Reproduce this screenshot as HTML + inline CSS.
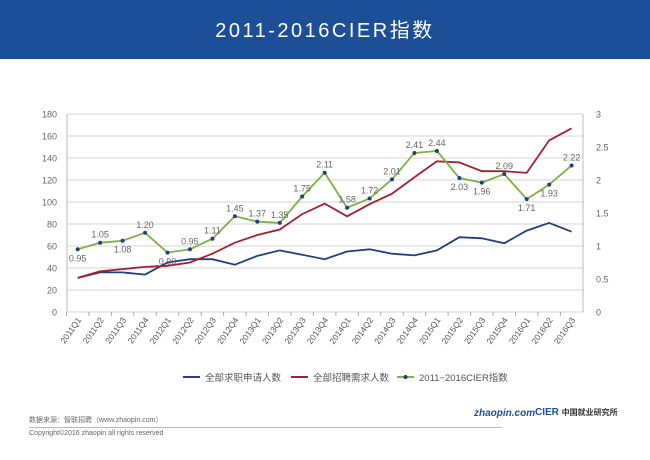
<!DOCTYPE html>
<html><head><meta charset="utf-8"><style>
body{margin:0;width:650px;height:460px;background:#fff;font-family:"Liberation Sans","Noto Sans CJK SC",sans-serif;overflow:hidden;position:relative}
#hdr{position:absolute;left:0;top:0;width:650px;height:59px;background:#1d4f98;color:#fff;text-align:center;font-size:20px;line-height:62px;letter-spacing:2.5px}
svg{position:absolute;left:0;top:0}
.ft{position:absolute;font-size:7px;color:#666}
</style></head><body>
<div id="hdr">2011-2016CIER指数</div>
<svg id="c" width="650" height="460"></svg>
<div class="ft" style="left:29px;top:415px">数据来源：智联招聘（www.zhaopin.com）</div>
<div style="position:absolute;left:29px;top:427px;width:473px;border-top:1px solid #bbb"></div>
<div class="ft" style="left:29px;top:430px">Copyright©2016 zhaopin all rights reserved</div>
<div style="position:absolute;left:474px;top:408px;font-size:10px;font-weight:bold;font-style:italic;color:#1d4f98">zhaopin.com</div>
<div style="position:absolute;left:535px;top:407px;font-size:10px;font-weight:bold;color:#1d4f98">CIER <span style="font-size:8px;color:#333">中国就业研究所</span></div>
<script>
const categories=["2011Q1","2011Q2","2011Q3","2011Q4","2012Q1","2012Q2","2012Q3","2012Q4","2013Q1","2013Q2","2013Q3","2013Q4","2014Q1","2014Q2","2014Q3","2014Q4","2015Q1","2015Q2","2015Q3","2015Q4","2016Q1","2016Q2","2016Q3"];
const applicants=[31,36,36,34,45,48,48,43,51,56,52,48,55,57,53,51.5,56,68,67,62.5,74,81,73];
const demand=[31,37,39,41,42,45,53,63,70,75,89,98.5,87,98,107.5,122.5,137,136,128,128,126.5,156,167];
const cier=[0.95,1.05,1.08,1.20,0.90,0.95,1.11,1.45,1.37,1.35,1.75,2.11,1.58,1.72,2.01,2.41,2.44,2.03,1.96,2.09,1.71,1.93,2.22];
const labelBelow=[true,false,true,false,true,false,false,false,false,false,false,false,false,false,false,false,false,true,true,false,true,true,false];
const leftTicks=[0,20,40,60,80,100,120,140,160,180];
const rightTicks=[0,0.5,1,1.5,2,2.5,3];
const NS="http://www.w3.org/2000/svg";
const svg=document.getElementById('c');
const x0=77.7,dx=22.45,yB=312,yT=114;
const X=i=>x0+i*dx;
const YL=v=>yB-(v/180)*(yB-yT);
const YR=v=>yB-(v/3)*(yB-yT);
function el(t,a){const e=document.createElementNS(NS,t);for(const k in a)e.setAttribute(k,a[k]);svg.appendChild(e);return e;}
leftTicks.forEach(v=>{const y=YL(v);
const g=el('line',{x1:67,x2:583,y1:y,y2:y,stroke:'#c8c8c8','stroke-width':0.8});


const t=el('text',{x:57,y:y+3.5,'text-anchor':'end','font-size':9,fill:'#666'});t.textContent=v;

});
rightTicks.forEach(v=>{const y=YR(v);const t=el('text',{x:596,y:y+3.5,'font-size':9,fill:'#666'});t.textContent=v;

});
el('line',{x1:67,x2:67,y1:yT,y2:yB,stroke:'#aaa','stroke-width':0.8});
el('line',{x1:583,x2:583,y1:yT,y2:yB,stroke:'#aaa','stroke-width':0.8});
categories.forEach((c,i)=>{const x=X(i);
el('line',{x1:x-dx/2,x2:x-dx/2,y1:yB,y2:yB+4,stroke:'#aaa'});
const t=el('text',{x:x+4,y:yB+8,'text-anchor':'end','font-size':8.5,fill:'#555',transform:`rotate(-55 ${x+4} ${yB+8})`});t.textContent=c;

});
function line(arr,Y,col,name){const p=el('polyline',{points:arr.map((v,i)=>X(i)+','+Y(v)).join(' '),fill:'none',stroke:col,'stroke-width':1.8});

}
line(applicants,YL,'#1f3f7f','applicants-line');
line(demand,YL,'#a3202e','demand-line');
line(cier,YR,'#7cb342','cier-line');
cier.forEach((v,i)=>{const c=el('circle',{cx:X(i),cy:YR(v),r:2,fill:'#1f3f7f'});


const t=el('text',{x:X(i),y:YR(v)+(labelBelow[i]?12:-5),'text-anchor':'middle','font-size':9,fill:'#666'});t.textContent=v.toFixed(2);

});
const leg=[["全部求职申请人数",'#1f3f7f',183],["全部招聘需求人数",'#a3202e',291],["2011−2016CIER指数",'#7cb342',397]];
leg.forEach(([n,c,x])=>{el('line',{x1:x,x2:x+17,y1:377,y2:377,stroke:c,'stroke-width':2});
if(c==='#7cb342')el('circle',{cx:x+8.5,cy:377,r:2,fill:'#1f3f7f'});
const t=el('text',{x:x+22,y:381,'font-size':9.5,fill:'#555'});t.textContent=n;

});
</script>
</body></html>
